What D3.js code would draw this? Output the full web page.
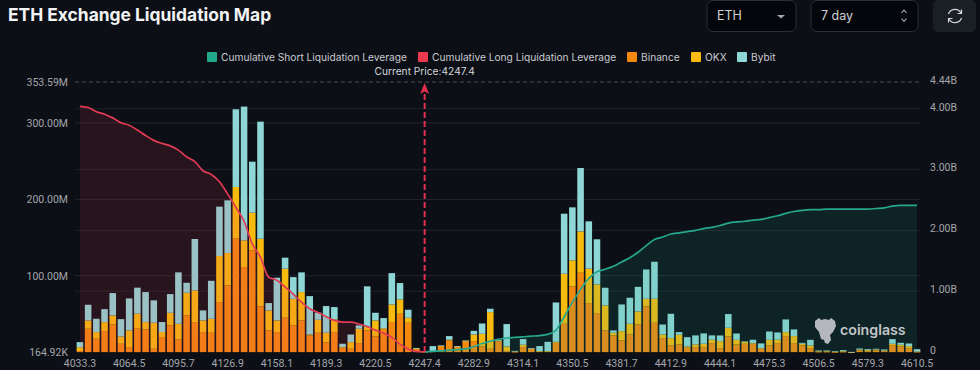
<!DOCTYPE html>
<html>
<head>
<meta charset="utf-8">
<script src="https://cdn.jsdelivr.net/npm/d3@7"></script>
<style>
  html, body { margin: 0; padding: 0; background: #0c0f16; overflow: hidden; }
  svg { display: block; }
  text { font-family: Inter, "Noto Sans", sans-serif; }
  .axis text { font-family: Roboto, sans-serif; font-size: 10.5px; fill: #a3a6ab; }
  .axis path, .axis line { display: none; }
</style>
</head>
<body>
<div class="graph"></div>
<script>
// values in millions, one per price bucket
const binance = [1.3,30.6,17.5,27.5,36.2,10.9,6.6,30.6,29.7,4.4,19.7,34.9,16.6,48,39.3,26.2,25.3,65.5,87.3,148.5,111.4,
  133.2,59.8,28.4,26.2,45,34.9,41.5,21.8,25.3,12.7,26.2,5.7,4.4,11.8,28.4,20.5,30.6,39.3,50.2,38.4,4.4,0.5,
  0.9,7.9,15.3,7.4,14.4,14.4,7.4,4.4,14.4,1.3,0.4,6.6,4.4,0.9,0.9,12.2,37.1,86,103.9,64.2,51.1,28.4,
  21.8,15.3,23.1,36.2,59.8,38.4,18.3,8.7,10,5.7,6.6,6.6,11.8,5.2,20.5,10,10.9,10.9,4.4,8.7,11.8,21,
  11.8,8.7,5.2,0.4,0.4,0.2,0.4,0.1,2.2,1.3,2.2,1.3,9.2,7.4,5.2,0.4];
const okx = [5.2,10.9,8.7,11.8,11.8,9.6,21.8,19.7,9.6,34.1,6.6,16.6,20.5,29.7,41.5,15.3,18.3,60.3,42.4,67.7,34.9,
  49.3,88.6,26.2,15.3,64.2,34.9,37.1,1.3,17,12.7,16.6,0.9,8.7,18.8,4.4,21,0.5,23.1,18.8,6.6,0.9,0.3,
  0.4,0.4,0.9,0.1,0.4,8.7,16.6,48,0.9,6.1,0.4,3.1,0.4,0.4,0.4,1.3,65.5,34.1,54.1,45,37.6,32.8,
  3.5,12.2,14,17,10,31.4,4.8,9.6,12.7,1.7,3.5,4.4,4.4,9.2,11.4,6.1,2.6,0.9,0.9,7.4,4.4,5.2,
  9.2,2.2,3.5,0.9,0.9,0.4,0.9,0.1,1.3,1.3,1.3,0.9,1.7,2.2,2.6,0.4];
const bybit = [6.6,20.5,17.5,17,29.3,22.7,41.9,34.1,39.3,29.3,13.1,24.5,67.3,13.1,67.3,13.1,49.8,64.6,69,101.7,175.1,
  66.8,153.3,9.6,55.9,14.4,28.4,25.8,50.2,9.6,34.9,16.2,4.4,10,4.4,53.3,10,13.5,41,21.4,10.5,0.2,0.3,
  6.6,0.4,4.8,0.4,0.4,4.8,13.5,4.4,0.1,29.3,0.9,7.4,0.4,6.6,12.2,51.5,78.6,69.4,83,62,59,23.1,
  3.1,34.9,34.1,32.3,38.4,48.5,13.1,31.9,3.5,12.2,11.8,13.5,5.7,7.4,17.9,8.3,0.4,4.4,6.1,10.9,9.6,16.6,
  8.7,1.3,7.4,0.9,0.9,0.4,1.3,0.1,1.3,1.3,0.9,1.3,6.1,2.6,3.5,3];

// cumulative leverage in billions, long side runs up to the current price, short side from it
const longLeverage = [4.04,4.02,3.95,3.91,3.85,3.77,3.73,3.65,3.56,3.48,3.43,3.39,3.32,3.21,3.13,2.98,2.92,2.80,2.60,2.38,2.15,
  1.78,1.56,1.23,1.18,1.07,0.95,0.82,0.71,0.65,0.58,0.52,0.49,0.49,0.46,0.42,0.36,0.31,0.24,0.13,0.05,0.01,0];
const shortLeverage = [0,0.01,0.02,0.03,0.04,0.05,0.09,0.14,0.18,0.21,0.23,0.24,0.25,0.26,0.27,0.29,0.36,0.58,0.82,1.03,1.21,1.32,1.36,
  1.41,1.48,1.55,1.64,1.75,1.85,1.89,1.94,1.96,1.98,2.00,2.03,2.05,2.08,2.12,2.14,2.15,2.17,2.18,2.21,2.24,2.28,
  2.31,2.33,2.34,2.34,2.35,2.35,2.35,2.35,2.35,2.35,2.36,2.37,2.40,2.41,2.41,2.41];

const priceTicks = ["4033.3","4064.5","4095.7","4126.9","4158.1","4189.3","4220.5","4247.4","4282.9","4314.1","4350.5",
  "4381.7","4412.9","4444.1","4475.3","4506.5","4579.3","4610.5"];
const tickEvery = 6;
const currentIndex = 42;
const currentPrice = "4247.4";

const leftTicks = [0.16492, 100, 200, 300, 353.59];
const leftLabels = ["164.92K", "100.00M", "200.00M", "300.00M", "353.59M"];
const rightTicks = [0, 1, 2, 3, 4, 4.44];
const rightLabels = ["0", "1.00B", "2.00B", "3.00B", "4.00B", "4.44B"];

const exchanges = ["binance", "okx", "bybit"];
const exchangeColor = { binance: "#f5890f", okx: "#f7bb10", bybit: "#8fd6d6" };

const width = 980, height = 370;
const plotLeft = 75, plotRight = 922, plotTop = 82, plotBottom = 352;

const svg = d3.select(".graph").append("svg")
    .attr("width", width)
    .attr("height", height);

var rows = binance.map((d, i) => ({ i: i, binance: d, okx: okx[i], bybit: bybit[i] }));

var x = d3.scaleBand().domain(rows.map(d => d.i)).range([plotLeft, plotRight]).padding(0.2);
var yLeft = d3.scaleLinear().domain([0.16492, 353.59]).range([plotBottom, plotTop]);
var yRight = d3.scaleLinear().domain([0, 4.44]).range([plotBottom, plotTop]);
var cx = i => x(i) + x.bandwidth() / 2;

// header
svg.append("text")
    .attr("x", 8).attr("y", 21)
    .attr("fill", "#f2f3f5")
    .attr("font-size", 17.4)
    .attr("font-weight", 700)
    .text("ETH Exchange Liquidation Map");

function selectBox(x0, w, label) {
    svg.append("rect")
        .attr("x", x0).attr("y", 0.5).attr("width", w).attr("height", 31).attr("rx", 6)
        .attr("fill", "#05060b").attr("stroke", "#2a2e35");
    svg.append("text")
        .attr("x", x0 + 10).attr("y", 20)
        .attr("fill", "#cfd2d6").attr("font-size", 12.5)
        .text(label);
}
selectBox(707, 89, "ETH");
selectBox(811, 107, "7 day");
svg.append("path").attr("d", "M777,15h8l-4,3.5z").attr("fill", "#a3a6ab");
svg.append("path").attr("d", "M901.5,13l2.5,-3l2.5,3M901.5,18.5l2.5,3l2.5,-3")
    .attr("fill", "none").attr("stroke", "#b5b8bc").attr("stroke-width", 1.1);

svg.append("rect")
    .attr("x", 933).attr("y", 0).attr("width", 43).attr("height", 32).attr("rx", 5)
    .attr("fill", "#1a1f24");
svg.append("path")
    .attr("d", "M948.5,14a6.8,6.8 0 0 1 12.5,-1M961.5,18a6.8,6.8 0 0 1 -12.5,1M961.5,9.5v4h-4M948.5,22.5v-4h4")
    .attr("fill", "none").attr("stroke", "#d4d6d9").attr("stroke-width", 1.2);

// legend
const legendNames = ["Cumulative Short Liquidation Leverage", "Cumulative Long Liquidation Leverage", "Binance", "OKX", "Bybit"];
const legendColors = ["#1fa98a", "#ee3a4e", exchangeColor.binance, exchangeColor.okx, exchangeColor.bybit];
const legendX = [207, 418, 627, 691, 737];

var legend = svg.append("g").selectAll("g")
    .data(legendNames)
    .join("g")
    .attr("transform", (d, i) => `translate(${legendX[i]},52)`);
legend.append("rect")
    .attr("width", 10).attr("height", 10).attr("rx", 1)
    .attr("fill", (d, i) => legendColors[i]);
legend.append("text")
    .attr("x", 14).attr("y", 9)
    .attr("fill", "#c9cbcf").attr("font-size", 10.2)
    .text(d => d);

svg.append("text")
    .attr("x", cx(currentIndex)).attr("y", 75)
    .attr("text-anchor", "middle")
    .attr("fill", "#d4d6d9").attr("font-size", 10.2)
    .text("Current Price:" + currentPrice);

// grid lines
var grid = svg.append("g");
grid.selectAll("line.l")
    .data(leftTicks.slice(1, 4))
    .join("line")
    .attr("class", "l")
    .attr("x1", plotLeft).attr("x2", 920)
    .attr("y1", d => yLeft(d)).attr("y2", d => yLeft(d))
    .attr("stroke", "#24272d");
grid.selectAll("line.r")
    .data(rightTicks.slice(1, 5))
    .join("line")
    .attr("class", "r")
    .attr("x1", plotLeft).attr("x2", 920)
    .attr("y1", d => yRight(d)).attr("y2", d => yRight(d))
    .attr("stroke", "#1f2228");
grid.append("line")
    .attr("x1", plotLeft).attr("x2", 920)
    .attr("y1", plotTop).attr("y2", plotTop)
    .attr("stroke", "#4a4d52")
    .attr("stroke-dasharray", "4 3");

// stacked bars
var stacked = d3.stack().keys(exchanges)(rows);
svg.append("g").selectAll("g")
    .data(stacked)
    .join("g")
    .attr("fill", d => exchangeColor[d.key])
    .selectAll("rect")
    .data(d => d)
    .join("rect")
    .attr("x", d => x(d.data.i))
    .attr("y", d => yLeft(d[1]))
    .attr("width", x.bandwidth())
    .attr("height", d => Math.max(0.6, yLeft(d[0]) - yLeft(d[1])));

// cumulative areas sit over the bars
var longArea = d3.area().x((d, i) => cx(i)).y0(plotBottom).y1(d => yRight(d)).curve(d3.curveMonotoneX);
var longLine = d3.line().x((d, i) => cx(i)).y(d => yRight(d)).curve(d3.curveMonotoneX);
var shortArea = d3.area().x((d, i) => cx(i + currentIndex)).y0(plotBottom).y1(d => yRight(d)).curve(d3.curveMonotoneX);
var shortLine = d3.line().x((d, i) => cx(i + currentIndex)).y(d => yRight(d)).curve(d3.curveMonotoneX);

svg.append("path").attr("d", longArea(longLeverage)).attr("fill", "#e8364c").attr("fill-opacity", 0.13);
svg.append("path").attr("d", shortArea(shortLeverage)).attr("fill", "#1fa98a").attr("fill-opacity", 0.13);
svg.append("path").attr("d", longLine(longLeverage))
    .attr("fill", "none").attr("stroke", "#e23a55").attr("stroke-width", 1.7);
svg.append("path").attr("d", shortLine(shortLeverage))
    .attr("fill", "none").attr("stroke", "#26a68c").attr("stroke-width", 1.7);

// current price marker
svg.append("line")
    .attr("x1", cx(currentIndex)).attr("x2", cx(currentIndex))
    .attr("y1", plotBottom).attr("y2", plotTop + 8)
    .attr("stroke", "#e2304e").attr("stroke-width", 2)
    .attr("stroke-dasharray", "6 3");
svg.append("path")
    .attr("transform", `translate(${cx(currentIndex)},${plotTop + 1})`)
    .attr("d", "M0,0L4.5,11L0,8.5L-4.5,11Z")
    .attr("fill", "#e2304e");

// watermark
svg.append("path")
    .attr("d", "M815,321l4,-3l2,2l4,-1l4,1l2,-2l4,3l1,5l-3,6l-3,3l1,5l-3,4l-3,-1l-1,-3l-3,-1l-2,-7l-4,-5z")
    .attr("fill", "#b4b7bb");
svg.append("text")
    .attr("x", 840).attr("y", 335)
    .attr("fill", "#c2c5c9")
    .attr("font-size", 14.2)
    .attr("font-weight", 600)
    .text("coinglass");

// axes
svg.append("g")
    .attr("class", "axis")
    .attr("transform", `translate(68,0)`)
    .call(d3.axisLeft(yLeft).tickValues(leftTicks).tickSize(0).tickPadding(0)
        .tickFormat((d, i) => leftLabels[i]));

svg.append("g")
    .attr("class", "axis")
    .attr("transform", `translate(930,-2)`)
    .call(d3.axisRight(yRight).tickValues(rightTicks).tickSize(0).tickPadding(0)
        .tickFormat((d, i) => rightLabels[i]));

svg.append("g")
    .attr("class", "axis")
    .attr("transform", `translate(0,${plotBottom + 7.5})`)
    .call(d3.axisBottom(x).tickValues(priceTicks.map((d, i) => i * tickEvery)).tickSize(0).tickPadding(0)
        .tickFormat((d, i) => priceTicks[i]));
</script>
</body>
</html>
